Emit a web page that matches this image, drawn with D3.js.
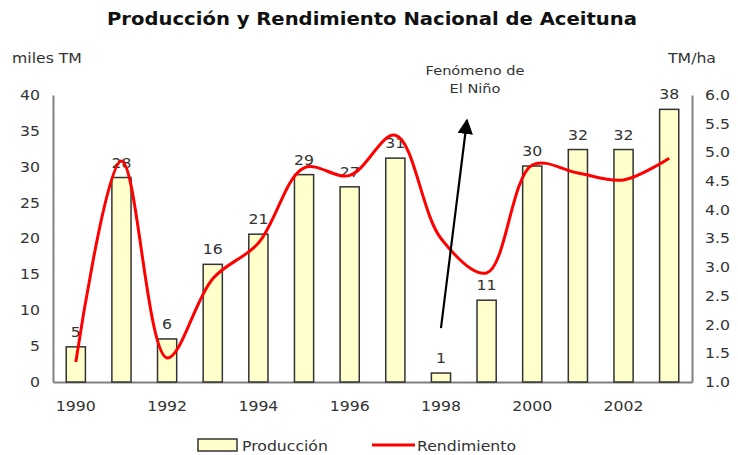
<!DOCTYPE html>
<html><head><meta charset="utf-8">
<script src="https://cdn.jsdelivr.net/npm/d3@7"></script>
<style>
html,body{margin:0;padding:0;background:#fff;}
svg{display:block;font-family:"DejaVu Sans",Verdana,sans-serif;}
</style></head>
<body><svg id="c" width="738" height="455"></svg>
<script>
const years = [1990,1991,1992,1993,1994,1995,1996,1997,1998,1999,2000,2001,2002,2003];
const produccion = [4.9,28.5,6.0,16.4,20.6,28.9,27.2,31.2,1.25,11.4,30.1,32.4,32.4,38.0];
const prodLabels = ["5","28","6","16","21","29","27","31","1","11","30","32","32","38"];
const rendimiento = [1.35,4.85,1.42,2.8,3.42,4.73,4.6,5.3,3.5,2.9,4.78,4.64,4.52,4.9];
const leftTicks = [0,5,10,15,20,25,30,35,40];
const rightTicks = [1.0,1.5,2.0,2.5,3.0,3.5,4.0,4.5,5.0,5.5,6.0];
const xLabels = [1990,1992,1994,1996,1998,2000,2002];
const arrowPts = [{i:8, v:7.5},{i:8.57, v:36.5}];

const svg = d3.select("#c");
const L = 53, R = 692, T = 95, B = 382;
const SX = 1.12; // horizontal stretch of the original picture
const stretch = sel => sel.each(function(){
  const w = this.getComputedTextLength();
  d3.select(this).attr("textLength", w*SX).attr("lengthAdjust","spacingAndGlyphs");
});
const x = d3.scaleBand().domain(years).range([L,R]).paddingInner(0.58).paddingOuter(0.29);
const yL = d3.scaleLinear().domain([0,40]).range([B,T]);
const yR = d3.scaleLinear().domain([1,6]).range([B,T]);
const cx = d => x(d) + x.bandwidth()/2;
const xi = d3.scaleLinear().domain([0,1]).range([cx(years[0]), cx(years[1])]);

const txt = "#333";
// title
svg.append("text").attr("x",372).attr("y",25).attr("text-anchor","middle")
  .attr("font-weight","bold").attr("font-size",18).attr("fill","#111")
  .attr("textLength",530).attr("lengthAdjust","spacingAndGlyphs")
  .text("Producción y Rendimiento Nacional de Aceituna");
svg.append("text").attr("x",12).attr("y",63).attr("font-size",14).attr("fill",txt).text("miles TM").call(stretch);
svg.append("text").attr("x",716).attr("y",63).attr("text-anchor","end").attr("font-size",14).attr("fill",txt).text("TM/ha").call(stretch);

// axes
const axL = svg.append("g").attr("transform",`translate(${L},0)`)
  .call(d3.axisLeft(yL).tickValues(leftTicks).tickSize(0).tickPadding(13));
const axR = svg.append("g").attr("transform",`translate(${R},0)`)
  .call(d3.axisRight(yR).tickValues(rightTicks).tickSize(0).tickPadding(13).tickFormat(d3.format(".1f")));
const axB = svg.append("g").attr("transform",`translate(0,${B})`)
  .call(d3.axisBottom(x).tickValues(xLabels).tickSize(0).tickPadding(19));
[axL,axR,axB].forEach(a=>{
  a.select(".domain").attr("stroke","#808080").attr("stroke-width",2);
  a.selectAll("text").attr("font-size",14).attr("fill",txt).attr("font-family","DejaVu Sans, sans-serif").call(stretch);
});

// bars
svg.append("g").selectAll("rect").data(years).join("rect")
  .attr("x",d=>x(d)).attr("width",x.bandwidth())
  .attr("y",(d,i)=>yL(produccion[i])).attr("height",(d,i)=>B-yL(produccion[i]))
  .attr("fill","#FFFFCC").attr("stroke","#333").attr("stroke-width",1.5);

// bar labels
svg.append("g").selectAll("text").data(years).join("text")
  .attr("x",d=>cx(d)).attr("y",(d,i)=>yL(produccion[i])-10)
  .attr("text-anchor","middle").attr("font-size",14).attr("fill",txt)
  .text((d,i)=>prodLabels[i]).call(stretch);

// line
const line = d3.line().x((d,i)=>cx(years[i])).y(d=>yR(d)).curve(d3.curveCatmullRom.alpha(0.5));
svg.append("path").datum(rendimiento).attr("d",line)
  .attr("fill","none").attr("stroke","#FF0000").attr("stroke-width",3);

// arrow
const defs = svg.append("defs");
defs.append("marker").attr("id","ah").attr("viewBox","0 0 10 10").attr("refX",9).attr("refY",5)
  .attr("markerWidth",7).attr("markerHeight",7).attr("markerUnits","strokeWidth").attr("orient","auto")
  .append("path").attr("d","M0,0L10,5L0,10Z").attr("fill","#000");
svg.append("line")
  .attr("x1",xi(arrowPts[0].i)).attr("y1",yL(arrowPts[0].v))
  .attr("x2",xi(arrowPts[1].i)).attr("y2",yL(arrowPts[1].v))
  .attr("stroke","#000").attr("stroke-width",2.2).attr("marker-end","url(#ah)");
svg.append("text").attr("x",475).attr("y",75).attr("text-anchor","middle").attr("font-size",13).attr("fill",txt).text("Fenómeno de").call(stretch);
svg.append("text").attr("x",475).attr("y",93).attr("text-anchor","middle").attr("font-size",13).attr("fill",txt).text("El Niño").call(stretch);

// legend
const lg = svg.append("g");
lg.append("rect").attr("x",198).attr("y",439).attr("width",39).attr("height",12)
  .attr("fill","#FFFFCC").attr("stroke","#333").attr("stroke-width",1.5);
lg.append("text").attr("x",242).attr("y",451).attr("font-size",14).attr("fill",txt).text("Producción").call(stretch);
lg.append("line").attr("x1",372).attr("x2",415).attr("y1",445).attr("y2",445).attr("stroke","#FF0000").attr("stroke-width",3);
lg.append("text").attr("x",417).attr("y",451).attr("font-size",14).attr("fill",txt).text("Rendimiento").call(stretch);
</script></body></html>
